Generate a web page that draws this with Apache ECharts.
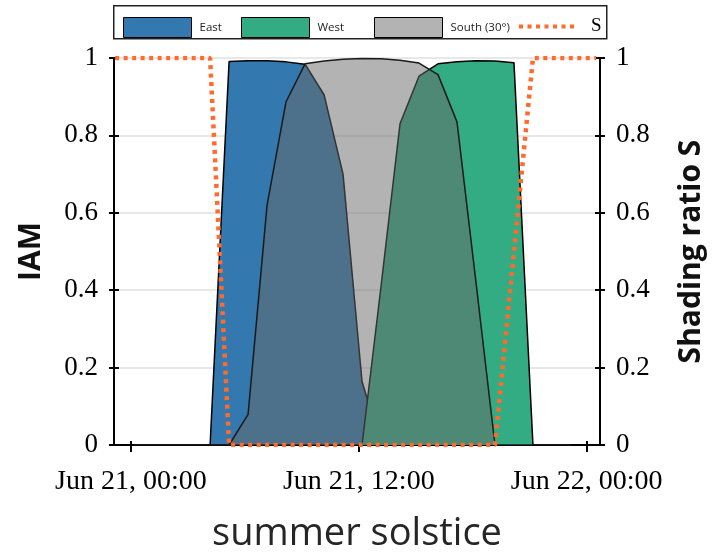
<!DOCTYPE html>
<html>
<head>
<meta charset="utf-8">
<script src="https://cdn.jsdelivr.net/npm/echarts@6/dist/echarts.min.js"></script>
<style>
html,body{margin:0;padding:0;background:#fff;}
#chart{width:714px;height:558px;}
</style>
</head>
<body>
<div id="chart"></div>
<script>
// Hourly sample times (hours since Jun 21, 00:00)
const hours = [0.17, 1.17, 2.17, 3.17, 4.17, 5.17, 6.17, 7.17, 8.17, 9.17, 10.17, 11.17,
               12.17, 13.17, 14.17, 15.17, 16.17, 17.17, 18.17, 19.17, 20.17, 21.17, 22.17, 23.17];
// IAM values
const east  = [0, 0, 0, 0, 0, 0.991, 0.993, 0.993, 0.990, 0.984, 0.905, 0.700,
               0.164, 0, 0, 0, 0, 0, 0, 0, 0, 0, 0, 0];
const west  = [0, 0, 0, 0, 0, 0, 0, 0, 0, 0, 0, 0,
               0, 0.410, 0.830, 0.953, 0.985, 0.990, 0.993, 0.992, 0.988, 0, 0, 0];
const south = [0, 0, 0, 0, 0, 0, 0.079, 0.620, 0.887, 0.985, 0.992, 0.997,
               0.999, 0.998, 0.994, 0.987, 0.957, 0.835, 0.420, 0, 0, 0, 0, 0];
// Shading ratio S
const sHours = [-0.83, 0.17, 1.17, 2.17, 3.17, 4.17, 5.17, 6.17, 7.17, 8.17, 9.17, 10.17, 11.17,
                12.17, 13.17, 14.17, 15.17, 16.17, 17.17, 18.17, 19.17, 20.17, 21.17, 22.17, 23.17, 24.17, 24.5];
const shading = [1, 1, 1, 1, 1, 1, 0, 0, 0, 0, 0, 0, 0,
                 0, 0, 0, 0, 0, 0, 0, 0, 0.5, 1, 1, 1, 1, 1];
// Axis ticks
const xTickHours = [0, 12, 24];
const xTickLabels = ['Jun 21, 00:00', 'Jun 21, 12:00', 'Jun 22, 00:00'];

const seriesNames = ['East', 'West', 'South (30°)', 'S'];

const pairs = (xs, ys) => xs.map((x, i) => [x, ys[i]]);

const chart = echarts.init(document.getElementById('chart'), null, {renderer: 'canvas'});

const xMin = -0.89, xMax = 24.7;
const serif = 'Liberation Serif';
const sans = 'Open Sans';
const orange = '#ff6b2c';

const legendBase = {
  top: 12, itemHeight: 20, itemWidth: 68, orient: 'horizontal',
  itemStyle: {borderColor: '#000', borderWidth: 1},
  textStyle: {fontFamily: sans, fontSize: 11.5, color: '#222', padding: [0, 0, 0, 3]},
  selectedMode: false
};

const yTickCommon = {show: true, length: 5, lineStyle: {color: '#000', width: 2}};

const option = {
  backgroundColor: '#fff',
  animation: false,
  graphic: [{
    type: 'rect', left: 113, top: 5, z: -1,
    shape: {width: 493, height: 33},
    style: {fill: '#fff', stroke: '#222', lineWidth: 1.5}
  }],
  legend: [
    Object.assign({}, legendBase, {left: 118, data: [{name: seriesNames[0], icon: 'rect'}]}),
    Object.assign({}, legendBase, {left: 236, data: [{name: seriesNames[1], icon: 'rect'}]}),
    Object.assign({}, legendBase, {left: 369, data: [{name: seriesNames[2], icon: 'rect'}]}),
    Object.assign({}, legendBase, {left: 512, itemWidth: 55,
      itemStyle: {color: 'rgba(0,0,0,0)', borderWidth: 0, opacity: 0},
      lineStyle: {color: orange, width: 4, type: [4, 4.5], opacity: 1},
      textStyle: {fontFamily: serif, fontSize: 19, color: '#000', padding: [0, 0, 0, 12]},
      data: [{name: seriesNames[3]}]})
  ],
  grid: {left: 114, right: 110, top: 58, bottom: 105},
  xAxis: [{
    type: 'value', min: xMin, max: xMax,
    axisLine: {show: true, onZero: false, lineStyle: {color: '#000', width: 2}},
    axisTick: {show: true, customValues: xTickHours, length: 7, lineStyle: {color: '#000', width: 2}},
    axisLabel: {customValues: xTickHours, margin: 23,
      formatter: v => xTickLabels[xTickHours.indexOf(v)] || '',
      fontFamily: serif, fontSize: 28, color: '#000'},
    splitLine: {show: false},
    name: 'summer solstice', nameLocation: 'middle', nameGap: 70,
    nameTextStyle: {fontFamily: sans, fontSize: 38, color: '#262626'}
  }, {
    type: 'value', min: xMin, max: xMax, position: 'bottom',
    axisLine: {show: false, onZero: false},
    axisTick: {show: true, inside: true, customValues: xTickHours, length: 4, lineStyle: {color: '#000', width: 2}},
    axisLabel: {show: false}, splitLine: {show: false}
  }],
  yAxis: [{
    type: 'value', min: 0, max: 1, interval: 0.2, position: 'left',
    axisLine: {show: true, onZero: false, lineStyle: {color: '#000', width: 2}},
    axisTick: yTickCommon,
    axisLabel: {margin: 16, fontFamily: serif, fontSize: 27, color: '#000'},
    splitLine: {show: true, lineStyle: {color: '#e0e0e0', width: 1.5}},
    name: 'IAM', nameLocation: 'middle', nameGap: 68, nameRotate: 90,
    nameTextStyle: {fontFamily: sans, fontWeight: 'bold', fontSize: 30, color: '#111'}
  }, {
    type: 'value', min: 0, max: 1, interval: 0.2, position: 'right',
    axisLine: {show: true, onZero: false, lineStyle: {color: '#000', width: 2}},
    axisTick: yTickCommon,
    axisLabel: {margin: 16, fontFamily: serif, fontSize: 27, color: '#000'},
    splitLine: {show: false},
    name: 'Shading ratio S', nameLocation: 'middle', nameGap: 76, nameRotate: 90,
    nameTextStyle: {fontFamily: sans, fontWeight: 'bold', fontSize: 30, color: '#111'}
  }, {
    type: 'value', min: 0, max: 1, interval: 0.2, position: 'left',
    axisLine: {show: false, onZero: false}, axisLabel: {show: false}, splitLine: {show: false},
    axisTick: Object.assign({}, yTickCommon, {inside: true})
  }, {
    type: 'value', min: 0, max: 1, interval: 0.2, position: 'right',
    axisLine: {show: false, onZero: false}, axisLabel: {show: false}, splitLine: {show: false},
    axisTick: Object.assign({}, yTickCommon, {inside: true})
  }],
  series: [{
    name: seriesNames[0], type: 'line', data: pairs(hours, east), symbol: 'none', z: 2,
    lineStyle: {color: '#000', width: 1.5},
    itemStyle: {color: '#3378ae'},
    areaStyle: {color: '#3378ae', opacity: 1}
  }, {
    name: seriesNames[1], type: 'line', data: pairs(hours, west), symbol: 'none', z: 3,
    lineStyle: {color: '#000', width: 1.5},
    itemStyle: {color: '#33ab83'},
    areaStyle: {color: '#33ab83', opacity: 1}
  }, {
    name: seriesNames[2], type: 'line', data: pairs(hours, south), symbol: 'none', z: 4,
    lineStyle: {color: '#1a1a1a', width: 1.5},
    itemStyle: {color: 'rgba(103,103,103,0.5)'},
    areaStyle: {color: 'rgba(103,103,103,0.5)', opacity: 1}
  }, {
    name: seriesNames[3], type: 'line', yAxisIndex: 1, data: pairs(sHours, shading), symbol: 'none', z: 10,
    lineStyle: {color: orange, width: 4.5, type: [4, 4.5], cap: 'butt'},
    itemStyle: {color: orange}
  }]
};

chart.setOption(option);
</script>
</body>
</html>
